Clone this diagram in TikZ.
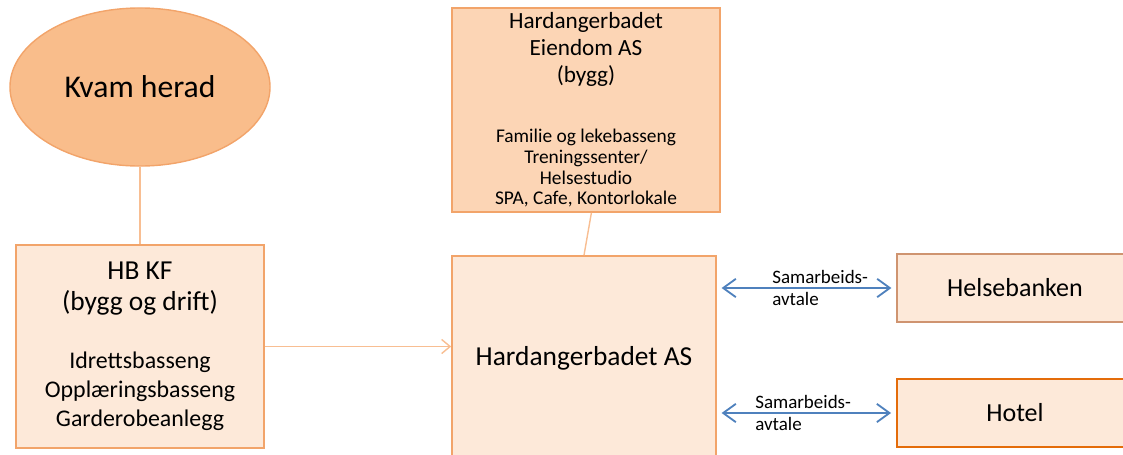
\documentclass[tikz,border=0pt]{standalone}
\usepackage{fontspec}
\setmainfont{Carlito}
\usetikzlibrary{shapes.geometric,arrows.meta}
\definecolor{ovalfill}{HTML}{F9BD8B}
\definecolor{bygfill}{HTML}{FCD5B5}
\definecolor{boxfill}{HTML}{FDE9D9}
\definecolor{boxline}{HTML}{F2A46A}
\definecolor{hotelline}{HTML}{E46C0A}
\definecolor{helseline}{HTML}{CF9470}
\definecolor{linkline}{HTML}{F8BE92}
\definecolor{avtaleblue}{HTML}{4F81BD}
\begin{document}
\begin{tikzpicture}[x=0.025cm, y=-0.025cm,
  orgbox/.style={draw=boxline, line width=1.1pt, fill=boxfill, inner sep=0pt, align=center},
  avtale/.style={draw=avtaleblue, line width=1.3pt, {Straight Barb[length=9pt,width=13pt]}-{Straight Barb[length=9pt,width=13pt]}, shorten <=0.12cm, shorten >=0.12cm},
  avtaletext/.style={anchor=west, align=left, inner sep=0pt, font=\fontsize{13.5}{15.6}\selectfont}]
\clip (0,0) rectangle (1123,454);
\node[ellipse, draw=boxline, line width=1pt, fill=ovalfill, minimum width=6.5cm, minimum height=3.95cm, inner sep=0pt, font=\fontsize{22.5}{27}\selectfont] (kvam) at (140,87) {Kvam herad};
\node[orgbox, minimum width=6.2cm, minimum height=5.075cm, font=\fontsize{17}{20.6}\selectfont] (hbkf) at (140,346.5)
  {{\fontsize{19.5}{22}\selectfont HB KF}\\[1.4pt]{\fontsize{19.5}{22}\selectfont (bygg og drift)}\\[21pt]Idrettsbasseng\\Opplæringsbasseng\\Garderobeanlegg};
\node[orgbox, fill=bygfill, minimum width=6.7cm, minimum height=5.1cm, font=\fontsize{13.8}{14.7}\selectfont] (eiendom) at (586,110)
  {{\fontsize{16.5}{19}\selectfont Hardangerbadet}\\[4.5pt]{\fontsize{16.5}{19}\selectfont Eiendom AS}\\[4.5pt]{\fontsize{16.5}{19}\selectfont (bygg)}\\[28pt]Familie og lekebasseng\\Treningssenter/\\Helsestudio\\SPA, Cafe, Kontorlokale};
\node[orgbox, minimum width=6.6cm, minimum height=5.1cm, font=\fontsize{19.5}{23}\selectfont] (as) at (584,358) {Hardangerbadet AS};
\node[orgbox, draw=helseline, minimum width=6.4cm, minimum height=1.7cm, font=\fontsize{18.5}{22}\selectfont] (helse) at (1025,288) {Helsebanken\hspace*{0.5cm}};
\node[orgbox, draw=hotelline, line width=1.6pt, minimum width=6.4cm, minimum height=1.7cm, font=\fontsize{18.5}{22}\selectfont] (hotel) at (1025,413) {Hotel\hspace*{0.5cm}};
% connectors
\draw[linkline, line width=1pt] (kvam.south) -- (hbkf.north);
\draw[linkline, line width=1pt] (eiendom.273) -- (as.north);
\draw[linkline, line width=1pt, -{Straight Barb[length=6pt,width=10pt]}] (hbkf.east) -- (hbkf.east -| as.west);
\draw[avtale] (as.east |- helse.west) -- (helse.west);
\draw[avtale] (as.east |- hotel.west) -- (hotel.west);
\node[avtaletext] (avtale1) at (772,288) {Samarbeids-\\avtale};
\node[avtaletext] (avtale2) at (755,413) {Samarbeids-\\avtale};
\end{tikzpicture}
\end{document}
